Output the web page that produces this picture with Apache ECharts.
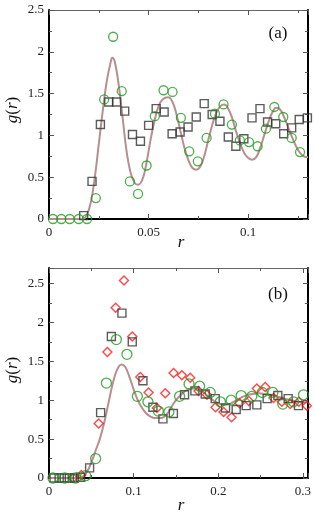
<!DOCTYPE html>
<html><head><meta charset="utf-8">
<script src="https://cdn.jsdelivr.net/npm/echarts@6/dist/echarts.min.js"></script>
<style>html,body{margin:0;padding:0;background:#fff}#c{width:314px;height:517px}</style>
</head><body><div id="c"></div>
<script>
// ---------- Panel (a) ----------
const aCurveX = [0,0.017,0.019,0.021,0.023,0.025,0.027,0.029,0.031,0.0317,0.033,0.035,0.037,0.039,0.041,0.043,0.0447,0.047,0.049,0.051,0.053,0.055,0.057,0.0598,0.062,0.064,0.066,0.068,0.070,0.072,0.074,0.076,0.078,0.080,0.082,0.084,0.086,0.088,0.090,0.092,0.094,0.096,0.098,0.100,0.102,0.104,0.106,0.108,0.110,0.112,0.114,0.116,0.118,0.120,0.122,0.124,0.126,0.128,0.130];
const aCurveY = [0,0,0.05,0.2,0.5,0.9,1.3,1.65,1.88,1.93,1.88,1.6,1.2,0.8,0.55,0.43,0.41,0.48,0.68,0.95,1.18,1.35,1.43,1.455,1.4,1.25,1.05,0.85,0.7,0.61,0.59,0.63,0.76,0.95,1.13,1.27,1.35,1.37,1.32,1.2,1.04,0.9,0.79,0.73,0.71,0.74,0.85,1.0,1.15,1.27,1.33,1.31,1.22,1.1,0.98,0.87,0.79,0.75,0.74];
const aCircleX = [0.002,0.0062,0.0104,0.0149,0.0191,0.0235,0.0277,0.0322,0.0365,0.0406,0.0447,0.049,0.0531,0.0575,0.062,0.0662,0.0704,0.0747,0.0791,0.0833,0.0876,0.0918,0.0958,0.1004,0.1047,0.1089,0.1131,0.1176,0.1218,0.126];
const aCircleY = [0,0,0,0,0,0.25,1.43,2.18,1.53,0.45,0.30,0.64,1.23,1.54,1.52,1.21,0.81,0.69,0.97,1.26,1.37,1.13,0.94,0.92,0.87,1.08,1.34,1.22,0.97,0.80];
const aSquareX = [0.0174,0.0216,0.0258,0.030,0.0339,0.038,0.0419,0.0459,0.050,0.0538,0.0578,0.0618,0.0658,0.0698,0.0739,0.0779,0.0819,0.0858,0.090,0.0938,0.0978,0.1019,0.1059,0.1097,0.1138,0.1178,0.1218,0.1256,0.1297];
const aSquareY = [0.04,0.45,1.13,1.40,1.40,1.29,1.01,0.93,1.12,1.32,1.28,1.02,1.04,1.10,1.22,1.38,1.25,1.17,0.98,0.87,0.96,1.21,1.32,1.16,1.14,1.02,1.09,1.19,1.21];
const aXTicks = [0, 0.05, 0.1];
const aYTicks = [0, 0.5, 1, 1.5, 2, 2.5];

// ---------- Panel (b) ----------
const bCurveX = [0,0.035,0.040,0.045,0.050,0.055,0.060,0.065,0.070,0.075,0.080,0.0855,0.090,0.095,0.100,0.105,0.110,0.115,0.120,0.125,0.130,0.135,0.140,0.145,0.150,0.155,0.160,0.165,0.172,0.180,0.185,0.190,0.195,0.200,0.2074,0.215,0.220,0.225,0.230,0.240,0.2487,0.255,0.265,0.275,0.285,0.295,0.305];
const bCurveY = [0,0,0.02,0.08,0.2,0.35,0.5,0.7,0.95,1.2,1.38,1.46,1.43,1.3,1.14,1.0,0.9,0.83,0.79,0.77,0.77,0.78,0.83,0.92,1.0,1.06,1.11,1.14,1.15,1.12,1.08,1.03,0.99,0.96,0.94,0.96,0.99,1.02,1.05,1.08,1.09,1.08,1.06,1.03,1.0,0.98,0.97];
const bCircleX = [0.0047,0.0185,0.0315,0.0433,0.0551,0.0678,0.0796,0.0921,0.1044,0.1169,0.1292,0.1417,0.1543,0.1655,0.178,0.1905,0.2025,0.2153,0.2271,0.2397,0.252,0.2645,0.2763,0.2889,0.3007];
const bCircleY = [0,0,0,0.03,0.25,1.22,1.78,1.59,1.05,0.98,0.86,0.85,1.05,1.21,1.18,1.10,0.98,1.00,1.06,1.05,1.10,1.10,0.95,0.98,1.07];
const bSquareX = [0.006,0.012,0.018,0.024,0.030,0.0374,0.048,0.061,0.0737,0.0862,0.0984,0.111,0.1228,0.1346,0.1470,0.1602,0.1724,0.1846,0.1964,0.2086,0.2212,0.233,0.2456,0.2578,0.2704,0.2826,0.2948];
const bSquareY = [0,0,0,0,0,0.01,0.13,0.84,1.82,2.12,1.75,1.25,0.91,0.76,0.83,1.07,1.12,1.08,1.02,0.90,0.88,0.93,0.94,1.02,1.06,1.02,0.93];
const bDiamondX = [0.0284,0.0382,0.0587,0.069,0.0788,0.0886,0.0984,0.1079,0.1177,0.1275,0.1374,0.1472,0.157,0.1669,0.1767,0.1866,0.1968,0.2063,0.2157,0.2252,0.2361,0.2456,0.2555,0.2653,0.2751,0.285,0.2952,0.3046];
const bDiamondY = [0,0.04,0.70,1.62,2.19,2.54,1.82,1.30,1.10,0.90,1.09,1.35,1.32,1.29,1.12,1.07,0.91,0.85,0.78,0.96,0.99,1.15,1.17,1.03,0.98,0.95,0.98,0.93];
const bXTicks = [0, 0.1, 0.2, 0.3];
const bYTicks = [0, 0.5, 1, 1.5, 2, 2.5];

const zip = (xs, ys) => xs.map((x, i) => [x, ys[i]]);
const SERIF = '"Liberation Serif","DejaVu Serif",serif';
const green = '#1f9a1f', dark = '#333333', red = '#ff1a1a', curveCol = '#b88e8e';

function axisPair(gridIndex, min, max, interval, ticks, isX) {
  const common = {
    type: 'value', gridIndex, min, max, interval,
    splitLine: { show: false },
    minorTick: { show: true, splitNumber: 2, length: 3, lineStyle: { color: '#555', width: 1 } },
    axisTick: { show: true, inside: true, length: 5, lineStyle: { color: '#555', width: 1 } },
  };
  const main = Object.assign({}, common, {
    position: isX ? 'bottom' : 'left',
    axisLine: { show: true, onZero: false, lineStyle: { color: '#000', width: 2 } },
    axisLabel: {
      show: true, showMaxLabel: ticks.indexOf(max) >= 0, fontFamily: SERIF, fontSize: 13, color: '#222',
      margin: isX ? 7 : 5,
      formatter: v => String(v)
    }
  });
  const mirror = Object.assign({}, common, {
    position: isX ? 'top' : 'right',
    axisLine: { show: true, onZero: false, lineStyle: { color: isX ? '#666' : '#000', width: isX ? 1 : 2 } },
    axisLabel: { show: false }
  });
  return [main, mirror];
}

const [ax0, ax0t] = axisPair(0, 0, 0.13, 0.05, aXTicks, true);
const [ay0, ay0r] = axisPair(0, 0, 2.5, 0.5, aYTicks, false);
const [bx1, bx1t] = axisPair(1, 0, 0.306, 0.1, bXTicks, true);
const [by1, by1r] = axisPair(1, 0, 2.7, 0.5, bYTicks, false);

function scatter(name, xi, yi, data, symbol, size, color, bw) {
  return {
    type: 'scatter', name, xAxisIndex: xi, yAxisIndex: yi, data, symbol, symbolSize: size,
    itemStyle: { color: 'rgba(0,0,0,0)', borderColor: color, borderWidth: bw },
    emphasis: { disabled: true }, animation: false, z: 3
  };
}
function curve(xi, yi, data) {
  return {
    type: 'line', xAxisIndex: xi, yAxisIndex: yi, data, smooth: 0.4, showSymbol: false,
    lineStyle: { color: curveCol, width: 2 }, animation: false, z: 2
  };
}

const option = {
  backgroundColor: '#fff',
  animation: false,
  grid: [
    { left: 49, top: 10, width: 259, height: 209 },
    { left: 49, top: 268, width: 259, height: 210 }
  ],
  xAxis: [ax0, ax0t, bx1, bx1t],
  yAxis: [ay0, ay0r, by1, by1r],
  series: [
    curve(0, 0, zip(aCurveX, aCurveY)),
    scatter('a-squares', 0, 0, zip(aSquareX, aSquareY), 'rect', 8, dark, 1.4),
    scatter('a-circles', 0, 0, zip(aCircleX, aCircleY), 'circle', 9, green, 1.3),
    curve(2, 2, zip(bCurveX, bCurveY)),
    scatter('b-diamonds', 2, 2, zip(bDiamondX, bDiamondY), 'diamond', 9, red, 1.4),
    scatter('b-squares', 2, 2, zip(bSquareX, bSquareY), 'rect', 8, dark, 1.4),
    scatter('b-circles', 2, 2, zip(bCircleX, bCircleY), 'circle', 10, green, 1.3)
  ],
  graphic: [
    { type: 'text', x: 278, y: 34, style: { text: '(a)', font: '17px ' + SERIF, fill: '#111', textAlign: 'center', textVerticalAlign: 'middle' } },
    { type: 'text', x: 278, y: 295, style: { text: '(b)', font: '17px ' + SERIF, fill: '#111', textAlign: 'center', textVerticalAlign: 'middle' } },
    { type: 'text', x: 181, y: 243, style: { text: 'r', font: 'italic 17px ' + SERIF, fill: '#111', textAlign: 'center', textVerticalAlign: 'middle' } },
    { type: 'text', x: 181, y: 506, style: { text: 'r', font: 'italic 17px ' + SERIF, fill: '#111', textAlign: 'center', textVerticalAlign: 'middle' } },
    { type: 'text', x: 13, y: 110, rotation: Math.PI / 2, style: {
        text: '{i|g}{n|(}{i|r}{n|)}', textAlign: 'center', textVerticalAlign: 'middle',
        rich: { i: { font: 'italic 17px ' + SERIF, fill: '#111' }, n: { font: '17px ' + SERIF, fill: '#111' } } } },
    { type: 'text', x: 13, y: 370, rotation: Math.PI / 2, style: {
        text: '{i|g}{n|(}{i|r}{n|)}', textAlign: 'center', textVerticalAlign: 'middle',
        rich: { i: { font: 'italic 17px ' + SERIF, fill: '#111' }, n: { font: '17px ' + SERIF, fill: '#111' } } } }
  ]
};
const chart = echarts.init(document.getElementById('c'), null, { renderer: 'canvas' });
chart.setOption(option);
</script>
</body></html>
